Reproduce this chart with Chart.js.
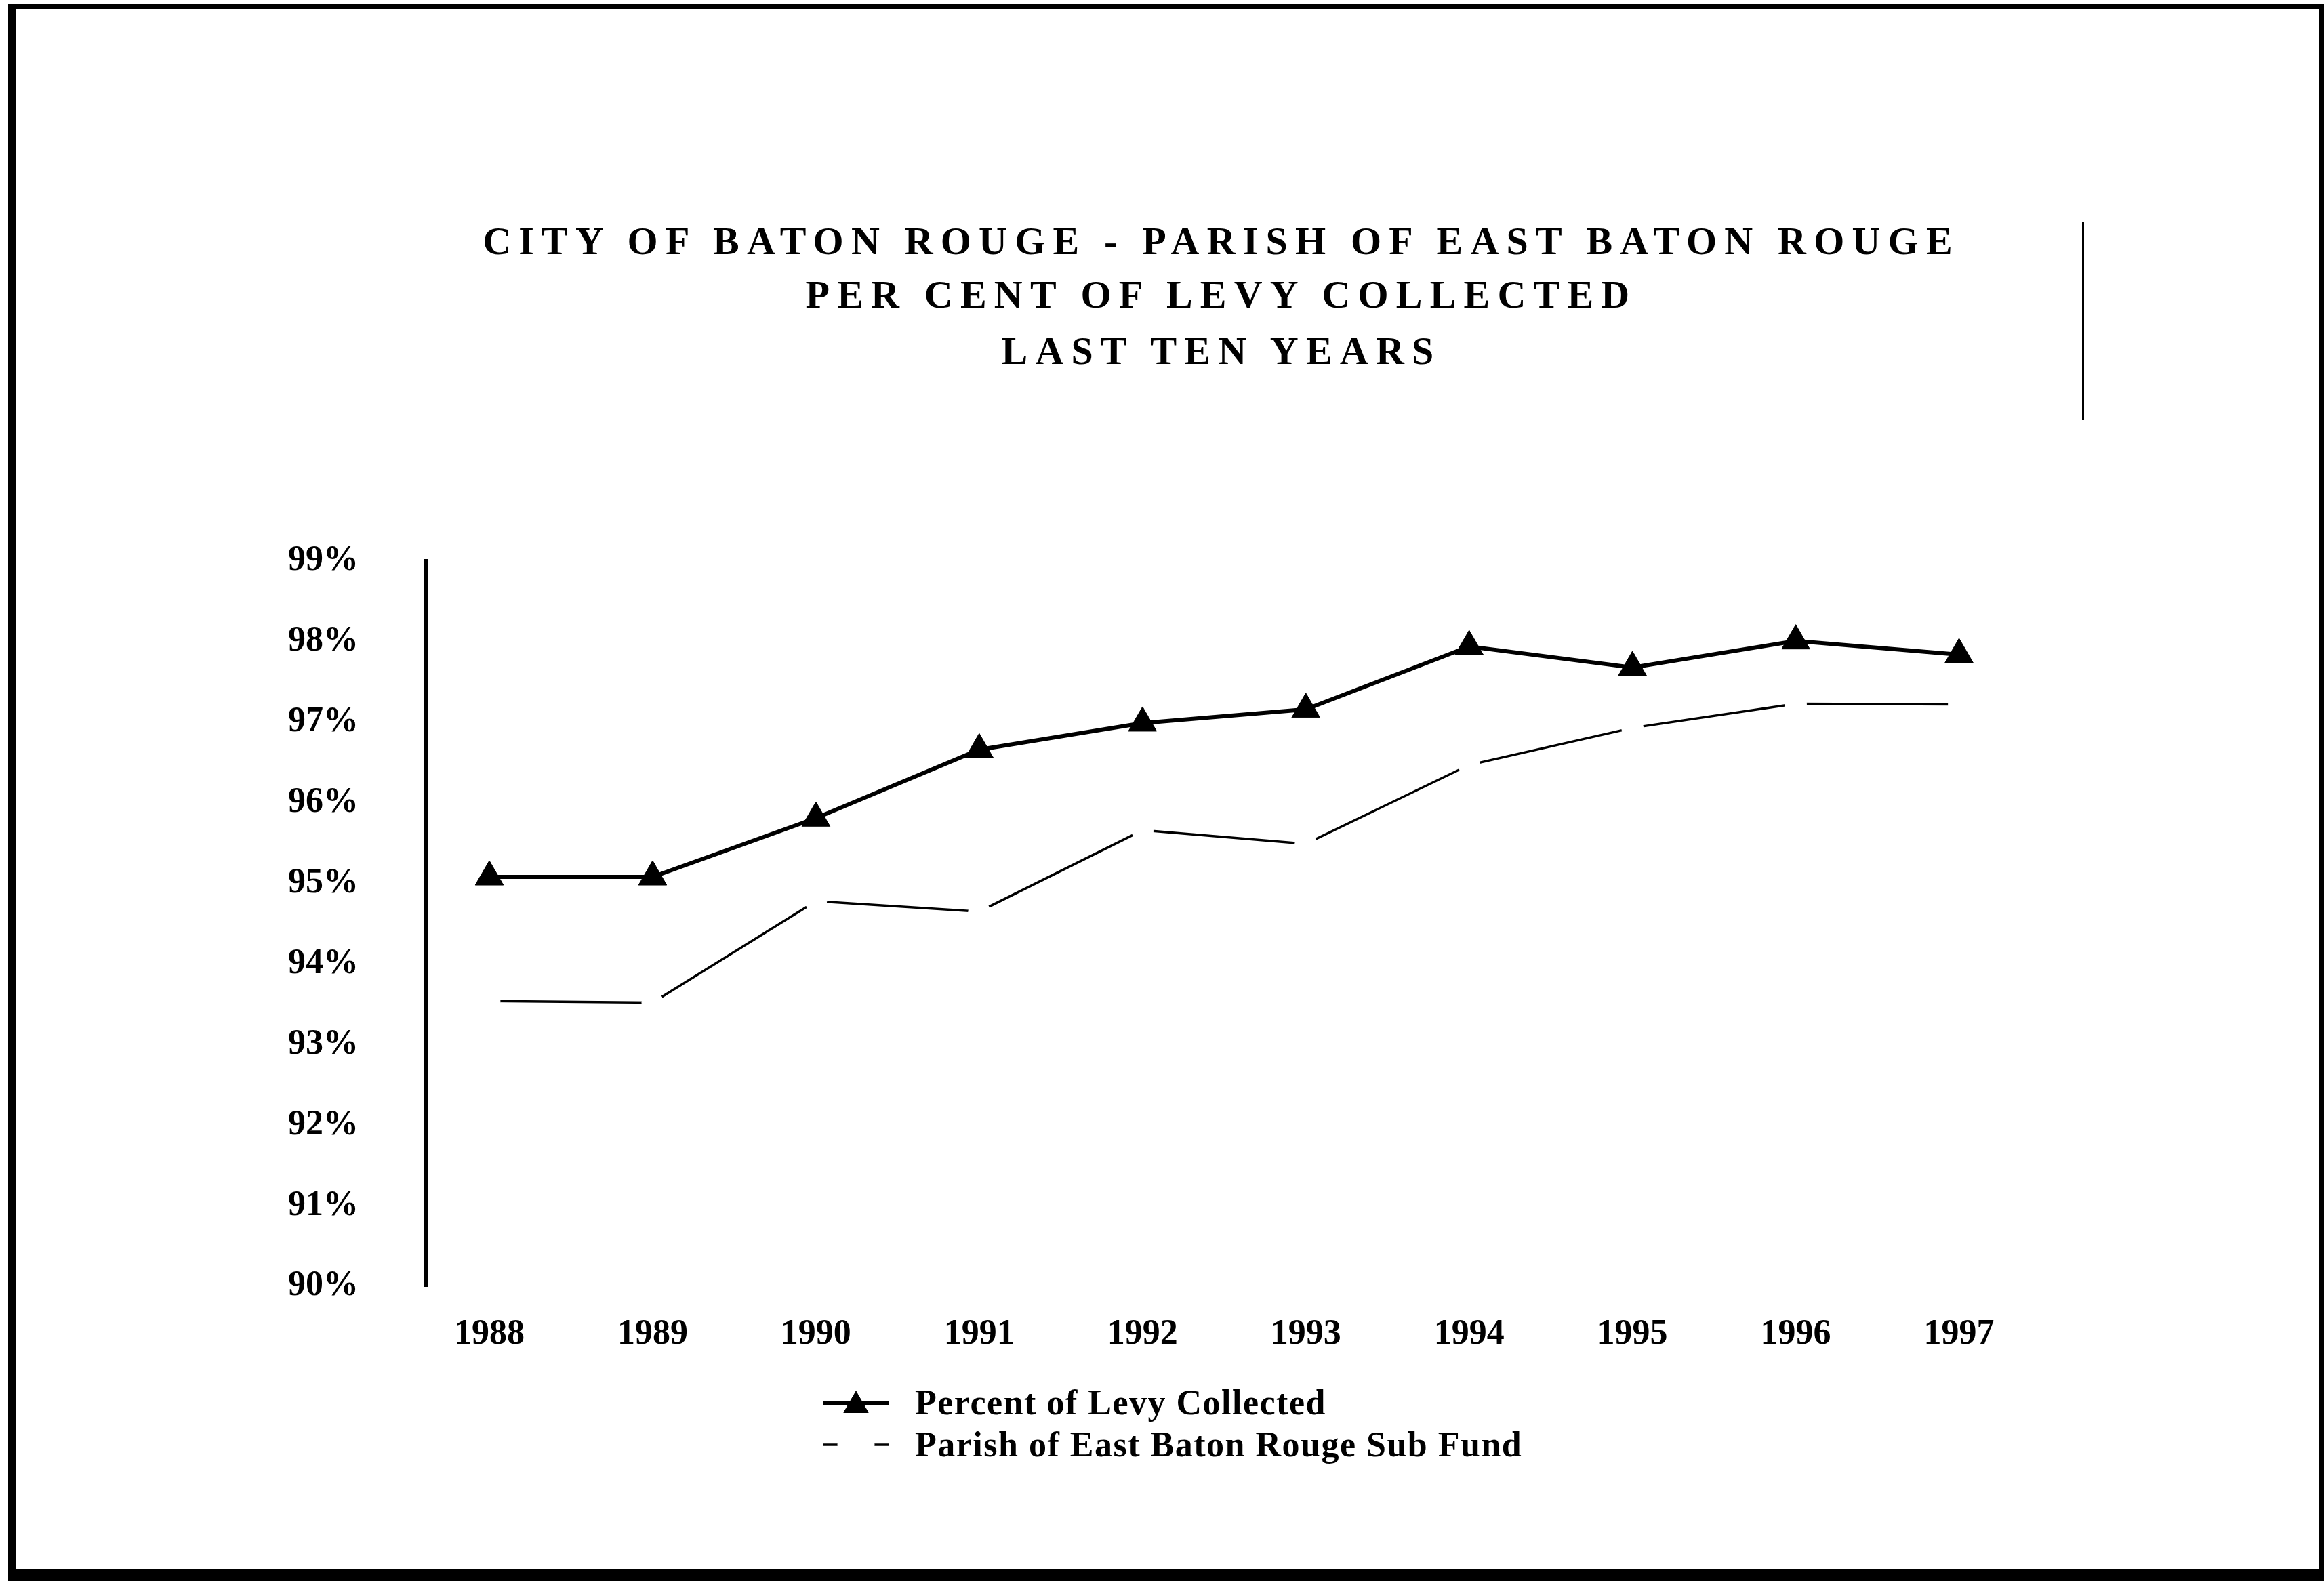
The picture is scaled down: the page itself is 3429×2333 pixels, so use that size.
<!DOCTYPE html>
<html lang="en">
<head>
<meta charset="utf-8">
<title>Per Cent of Levy Collected</title>
<script src="https://cdn.jsdelivr.net/npm/chart.js@4.4.1/dist/chart.umd.min.js"></script>
<style>
  html, body {
    margin: 0;
    padding: 0;
    background: #fff;
  }
  .page {
    position: relative;
    width: 3429px;
    height: 2333px;
    overflow: hidden;
    font-family: "Liberation Serif", "Times New Roman", serif;
    font-weight: bold;
    color: #000;
  }
  .frame {
    position: absolute;
    left: 12px;
    top: 6px;
    right: 0;
    bottom: 0;
    border-top: 7px solid #000;
    border-left: 11px solid #000;
    border-right: 8px solid #000;
    border-bottom: 17px solid #000;
  }
  .title-line {
    position: absolute;
    left: 0;
    width: 3604px;
    height: 80px;
    line-height: 80px;
    text-align: center;
    font-size: 58px;
    letter-spacing: 11.2px;
    white-space: nowrap;
  }
  .side-rule {
    position: absolute;
    left: 3072px;
    top: 328px;
    width: 3px;
    height: 292px;
    background: #000;
  }
  #levyChart {
    position: absolute;
    left: 0;
    top: 0;
  }
  #levyLegend {
    position: absolute;
    left: 1215px;
    top: 2039px;
    margin: 0;
    padding: 0;
    list-style: none;
    font-size: 52px;
    letter-spacing: 1.5px;
  }
  #levyLegend li {
    display: flex;
    align-items: center;
    height: 62px;
    line-height: 62px;
    white-space: nowrap;
  }
  #levyLegend canvas {
    margin-right: 39px;
  }
</style>
</head>
<body>
<div class="page">
  <div class="frame"></div>
  <div class="title-line" style="top:316px">CITY OF BATON ROUGE - PARISH OF EAST BATON ROUGE</div>
  <div class="title-line" style="top:395px">PER CENT OF LEVY COLLECTED</div>
  <div class="title-line" style="top:478px">LAST TEN YEARS</div>
  <div class="side-rule"></div>
  <canvas id="levyChart" width="3429" height="2333"></canvas>
  <ul id="levyLegend"></ul>
</div>

<script>
const years = [1988, 1989, 1990, 1991, 1992, 1993, 1994, 1995, 1996, 1997];
const levyCollected = [95.08, 95.08, 95.81, 96.66, 96.99, 97.16, 97.94, 97.68, 98.01, 97.84];
const parishSubFund = [93.54, 93.52, 94.78, 94.65, 95.66, 95.49, 96.47, 96.93, 97.23, 97.22];
const percentTicks = [90, 91, 92, 93, 94, 95, 96, 97, 98, 99];
const seriesLabels = ["Percent of Levy Collected", "Parish of East Baton Rouge Sub Fund"];

const serif = '"Liberation Serif", "Times New Roman", serif';

Chart.defaults.font.family = serif;
Chart.defaults.font.weight = "bold";
Chart.defaults.color = "#000";

const datasets = [
  {
    label: seriesLabels[0],
    data: years.map((y, i) => ({ x: y, y: levyCollected[i] })),
    borderColor: "#000",
    borderWidth: 6,
    backgroundColor: "#000",
    pointStyle: "triangle",
    pointRadius: 24,
    pointBorderWidth: 1,
    pointBorderColor: "#000",
    pointBackgroundColor: "#000",
    tension: 0,
  },
  {
    label: seriesLabels[1],
    data: years.map((y, i) => ({ x: y, y: parishSubFund[i] })),
    borderColor: "#000",
    borderWidth: 3.5,
    backgroundColor: "#fff",
    pointStyle: "circle",
    pointRadius: 16,
    pointBorderWidth: 1,
    pointBorderColor: "#fff",
    pointBackgroundColor: "#fff",
    tension: 0,
  },
];

// legend swatch: the series line with its marker drawn on top
function drawLegendMarker(canvas, ds) {
  const ctx = canvas.getContext("2d");
  const mid = canvas.height / 2;
  ctx.strokeStyle = ds.borderColor;
  ctx.lineWidth = ds.borderWidth;
  ctx.beginPath();
  ctx.moveTo(0, mid);
  ctx.lineTo(canvas.width, mid);
  ctx.stroke();

  ctx.fillStyle = ds.pointBackgroundColor;
  ctx.strokeStyle = ds.pointBorderColor;
  ctx.lineWidth = ds.pointBorderWidth;
  const radius = ds.pointStyle === "triangle" ? 21 : 27;
  Chart.helpers.drawPoint(ctx, {
    pointStyle: ds.pointStyle,
    radius: radius,
    borderWidth: ds.pointBorderWidth,
    rotation: 0,
  }, canvas.width / 2, mid + (ds.pointStyle === "triangle" ? 4 : 0));
}

function buildLegend() {
  const legend = document.getElementById("levyLegend");
  datasets.forEach((ds) => {
    const item = document.createElement("li");
    const marker = document.createElement("canvas");
    marker.width = 96;
    marker.height = 62;
    drawLegendMarker(marker, ds);
    const text = document.createElement("span");
    text.textContent = ds.label;
    item.appendChild(marker);
    item.appendChild(text);
    legend.appendChild(item);
  });
}

function initChart() {
  const ctx = document.getElementById("levyChart").getContext("2d");

  new Chart(ctx, {
    type: "line",
    data: { datasets },
    options: {
      responsive: false,
      animation: false,
      layout: {
        padding: { left: 328, right: 418, top: 828, bottom: 315 },
      },
      scales: {
        x: {
          type: "linear",
          min: 1987.61,
          max: 1997.5,
          afterBuildTicks: (axis) => {
            axis.ticks = years.map((v) => ({ value: v }));
          },
          afterFit: (axis) => {
            axis.height = 120;
          },
          grid: { display: false, drawTicks: false },
          border: { display: false },
          ticks: {
            padding: 40,
            maxRotation: 0,
            autoSkip: false,
            font: { size: 52, weight: "bold" },
            callback: (v) => String(v),
          },
        },
        y: {
          min: 90,
          max: 99,
          afterBuildTicks: (axis) => {
            axis.ticks = percentTicks.map((v) => ({ value: v }));
          },
          afterFit: (axis) => {
            axis.width = 300;
          },
          grid: { display: false, drawTicks: false },
          border: { display: true, color: "#000", width: 7 },
          ticks: {
            padding: 99,
            font: { size: 52, weight: "bold" },
            callback: (v) => v + "%",
          },
        },
      },
      plugins: {
        legend: { display: false },
        tooltip: { enabled: false },
      },
    },
  });
}

document.addEventListener("DOMContentLoaded", () => {
  buildLegend();
  initChart();
});
</script>
</body>
</html>
